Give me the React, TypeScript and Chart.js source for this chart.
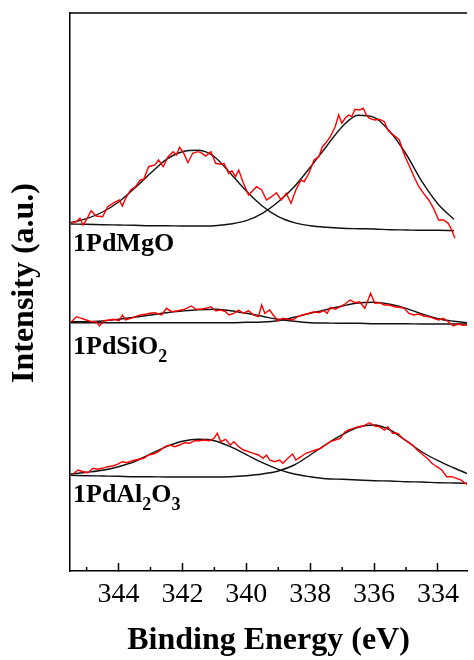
import React, { useEffect, useRef } from "react";
import { Chart, registerables } from "chart.js";

Chart.register(...registerables);

// ---------- axis ----------
const energyMin = 333.09;
const energyMax = 345.52;
const majorTicks = [344, 342, 340, 338, 336, 334];
const minorTicks = [345, 343, 341, 339, 337, 335, 333];
const intensityMin = 0;
const intensityMax = 558;

// ---------- fit grid (binding energy, eV) ----------
const fitEnergy = [345.5, 345, 344.5, 344, 343.5, 343, 342.5, 342, 341.5, 341, 340.5, 340, 339.5, 339, 338.5, 338, 337.5, 337, 336.5, 336, 335.5, 335, 334.5, 334, 333.5, 333];

// ---------- 1PdMgO ----------
const mgoRawE = [345.47, 345.32, 345.21, 345.11, 345.01, 344.86, 344.7, 344.5, 344.34, 344.14, 343.98, 343.88, 343.78, 343.62, 343.47, 343.32, 343.21, 343.06, 342.86, 342.75, 342.6, 342.45, 342.29, 342.19, 342.09, 341.98, 341.83, 341.68, 341.52, 341.42, 341.27, 341.11, 340.96, 340.8, 340.7, 340.55, 340.45, 340.34, 340.24, 340.09, 339.93, 339.78, 339.68, 339.52, 339.37, 339.21, 339.06, 338.91, 338.75, 338.6, 338.45, 338.29, 338.19, 338.04, 337.88, 337.73, 337.62, 337.52, 337.37, 337.22, 337.11, 337.01, 336.91, 336.8, 336.7, 336.6, 336.45, 336.34, 336.24, 336.14, 335.98, 335.83, 335.68, 335.57, 335.47, 335.32, 335.21, 335.11, 335.01, 334.91, 334.75, 334.6, 334.45, 334.29, 334.14, 333.98, 333.83, 333.68, 333.57, 333.47];
const mgoRawI = [348.3, 349.3, 352.7, 346, 351, 360.3, 355, 354.3, 364.3, 368.3, 371, 365, 372.7, 381, 384.3, 391, 391.7, 404.3, 406, 411, 404.3, 414.3, 419.3, 416, 423.7, 419.3, 408.3, 417.7, 419.3, 418.3, 415, 419.3, 407.7, 406.7, 407.7, 397.7, 400.3, 394.3, 401, 387.7, 376, 381, 384.3, 381, 371, 374.3, 378.3, 371, 377.7, 367.7, 381, 391, 389.3, 397.7, 411, 414.3, 424.3, 427.7, 434.3, 444.3, 456, 447.7, 452.7, 456, 454.3, 461.7, 461, 462.7, 456, 452.7, 451, 451.7, 449.3, 441, 437.7, 434.3, 431, 421, 412.7, 406, 394.3, 384.3, 377.7, 371, 362.7, 351, 351, 347.7, 341, 332.7];
const mgoFitPeak1 = [348.3, 352.3, 359, 369, 382.7, 397.7, 411.7, 419.3, 420.7, 414.3, 397.7, 380, 365, 354.3, 348.3, 345.3, 343.7, 342.7, 342.3, 342, 341.3, 341, 340.7, 340.7, 340.3];
const mgoFitPeak2 = [347, 346.7, 346.3, 346, 345.7, 345.3, 345.3, 345, 345, 345.3, 347, 350.3, 357.7, 369.3, 384.3, 403.7, 424.3, 444.3, 455.7, 453.7, 439.3, 417, 389.3, 367, 351.7];

// ---------- 1PdSiO2 ----------
const sioRawE = [345.47, 345.32, 345.16, 345.01, 344.86, 344.7, 344.6, 344.45, 344.29, 344.14, 343.98, 343.88, 343.78, 343.62, 343.47, 343.32, 343.16, 343.01, 342.86, 342.65, 342.5, 342.34, 342.14, 341.93, 341.73, 341.57, 341.42, 341.27, 341.11, 340.96, 340.8, 340.65, 340.55, 340.39, 340.24, 340.09, 339.93, 339.78, 339.62, 339.52, 339.42, 339.27, 339.16, 339.01, 338.86, 338.7, 338.55, 338.39, 338.24, 338.04, 337.88, 337.73, 337.57, 337.47, 337.37, 337.22, 337.06, 336.91, 336.75, 336.6, 336.45, 336.29, 336.11, 335.98, 335.83, 335.68, 335.52, 335.37, 335.21, 335.06, 334.91, 334.75, 334.6, 334.45, 334.29, 334.14, 333.98, 333.83, 333.68, 333.52, 333.37, 333.22, 333.11, 332.96];
const sioRawI = [249.3, 254.3, 252.7, 251, 249.3, 249.3, 245, 250.3, 251, 251.7, 250.3, 256, 251, 252.7, 254.3, 256, 256.7, 257.7, 258.3, 256, 262.7, 259.3, 260.3, 261.7, 265, 261.7, 261.7, 262.7, 264.3, 260.3, 261, 259.3, 256, 257.7, 261, 257.7, 260.3, 256, 254.3, 266, 257.7, 261, 256, 250.3, 252.7, 251.7, 251, 254.3, 256, 257.7, 259.3, 258.3, 260.3, 257.7, 263.7, 261.7, 264.3, 267, 271, 268.3, 269.3, 262.7, 277.7, 267.7, 268.3, 266, 266, 264.3, 263.7, 262.7, 257.7, 256, 257, 255, 254.3, 252.7, 251, 252.7, 249.3, 245, 247, 245.7, 246, 246.3];
const sioFitPeak1 = [249.3, 249.3, 250, 251.7, 253.7, 256, 258.3, 260, 261.3, 261.7, 260.3, 257.7, 254.7, 251.7, 249.7, 248.3, 248, 247.7, 247.7, 247.3, 247.3, 247.3, 247, 247, 247, 247];
const sioFitPeak2 = [248.3, 248.3, 248.3, 248.3, 248.3, 248.3, 248.3, 248.3, 248.3, 248.3, 248.3, 248.7, 249, 250.3, 253.7, 257.7, 261.3, 265, 268, 268.7, 266.7, 262.7, 257, 252.3, 249.7, 248];

// ---------- 1PdAl2O3 ----------
const aloRawE = [345.42, 345.27, 345.11, 344.96, 344.8, 344.65, 344.5, 344.34, 344.19, 344.04, 343.88, 343.73, 343.57, 343.37, 343.21, 343.06, 342.91, 342.75, 342.55, 342.39, 342.24, 342.09, 341.93, 341.78, 341.62, 341.47, 341.32, 341.16, 341.01, 340.91, 340.8, 340.65, 340.5, 340.39, 340.24, 340.09, 339.93, 339.78, 339.62, 339.47, 339.37, 339.27, 339.11, 338.96, 338.86, 338.7, 338.55, 338.45, 338.29, 338.14, 337.98, 337.83, 337.68, 337.52, 337.37, 337.22, 337.06, 336.91, 336.8, 336.65, 336.5, 336.34, 336.14, 335.98, 335.83, 335.68, 335.57, 335.42, 335.27, 335.11, 334.96, 334.8, 334.65, 334.5, 334.34, 334.19, 334.04, 333.88, 333.73, 333.57, 333.42, 333.27, 333.16, 333.01];
const aloRawI = [97, 101, 99.3, 98.3, 102.7, 101.7, 102.7, 104.3, 105, 106.7, 109.3, 108.3, 110.3, 111.7, 112.7, 116, 117, 119.3, 124.3, 126, 124.3, 126, 128.3, 127.7, 130.3, 130.3, 131, 130.3, 132.7, 137.7, 129.3, 131.7, 126, 129.3, 124.3, 121, 119.3, 117.7, 116, 112.7, 116, 111, 109.3, 111, 107.7, 112.7, 117, 111, 114.3, 117.7, 119.3, 121, 122.7, 126, 129.3, 131, 132.7, 139.3, 141, 142.7, 144.3, 145, 148.3, 145, 144.3, 141, 144.3, 137.7, 137.7, 132.7, 129.3, 126, 121, 117, 112.7, 107.7, 104.3, 101, 94.3, 94.3, 92.7, 91, 87.7, 86];
const aloFitPeak1 = [97, 98.7, 100.7, 104.3, 109.3, 117, 124.3, 129.7, 131.7, 130.3, 124.3, 116.3, 108.3, 101.7, 97, 94.3, 92.3, 91.7, 91, 90.3, 90, 89.3, 89, 88.3, 88, 87.7];
const aloFitPeak2 = [95.7, 95.3, 95, 94.7, 94.3, 94.3, 94, 94, 94, 94, 94.3, 95.3, 97, 100, 106, 116, 126.7, 136.3, 143.7, 146, 141, 130.3, 119, 110.3, 103, 96.3];

// ---------- sample labels ----------
// each label: alternating [normal, subscript, normal, subscript ...]
const sampleLabels = [["1PdMgO"], ["1PdSiO", "2"], ["1PdAl", "2", "O", "3"]];
const labelLevels = [320, 217, 69];

const yTitle = "Intensity (a.u.)";
const xTitle = "Binding Energy (eV)";

const SERIF = "'Liberation Serif', 'Times New Roman', Times, serif";

function pairs(xs: number[], ys: number[]) {
  const n = Math.min(xs.length, ys.length);
  const out: { x: number; y: number }[] = [];
  for (let i = 0; i < n; i++) out.push({ x: xs[i], y: ys[i] });
  return out;
}

const rawSet = (xs: number[], ys: number[]) => ({
  data: pairs(xs, ys),
  borderColor: "#ff0000",
  borderWidth: 1.4,
  pointRadius: 0,
  tension: 0,
  fill: false,
});

const fitSet = (ys: number[]) => ({
  data: pairs(fitEnergy, ys),
  borderColor: "#111111",
  borderWidth: 1.4,
  pointRadius: 0,
  cubicInterpolationMode: "monotone" as const,
  fill: false,
});

const decorPlugin = {
  id: "decor",
  afterDraw(chart: any) {
    const { ctx, chartArea, scales } = chart;
    const x = scales.x;
    const y = scales.y;
    ctx.save();
    ctx.strokeStyle = "#000";
    ctx.lineWidth = 1.5;
    // top frame
    ctx.beginPath();
    ctx.moveTo(chartArea.left, chartArea.top);
    ctx.lineTo(chartArea.right, chartArea.top);
    ctx.stroke();
    // minor ticks
    minorTicks.forEach((v) => {
      const px = x.getPixelForValue(v);
      if (px < chartArea.left || px > chartArea.right) return;
      ctx.beginPath();
      ctx.moveTo(px, chartArea.bottom);
      ctx.lineTo(px, chartArea.bottom - 4);
      ctx.stroke();
    });
    // y title
    ctx.save();
    ctx.translate(25, (chartArea.top + chartArea.bottom) / 2 - 9);
    ctx.rotate(-Math.PI / 2);
    ctx.fillStyle = "#000";
    ctx.font = `bold 32px ${SERIF}`;
    ctx.textAlign = "center";
    ctx.textBaseline = "middle";
    ctx.fillText(yTitle, 0, 0);
    ctx.restore();
    // sample labels
    ctx.fillStyle = "#000";
    ctx.textBaseline = "alphabetic";
    ctx.textAlign = "left";
    sampleLabels.forEach((parts, i) => {
      let px = chartArea.left + 3;
      const py = y.getPixelForValue(labelLevels[i]);
      parts.forEach((p, j) => {
        const sub = j % 2 === 1;
        ctx.font = sub ? `bold 18px ${SERIF}` : `bold 26px ${SERIF}`;
        ctx.fillText(p, px, sub ? py + 8 : py);
        px += ctx.measureText(p).width;
      });
    });
    ctx.restore();
  },
};

export default function App() {
  const ref = useRef<HTMLCanvasElement>(null);
  useEffect(() => {
    if (!ref.current) return;
    const chart = new Chart(ref.current, {
      type: "line",
      data: {
        datasets: [
          rawSet(mgoRawE, mgoRawI),
          rawSet(sioRawE, sioRawI),
          rawSet(aloRawE, aloRawI),
          fitSet(mgoFitPeak1),
          fitSet(mgoFitPeak2),
          fitSet(sioFitPeak1),
          fitSet(sioFitPeak2),
          fitSet(aloFitPeak1),
          fitSet(aloFitPeak2),
        ] as any,
      },
      options: {
        animation: false,
        responsive: false,
        devicePixelRatio: 1,
        layout: { padding: { top: 13, left: 0, right: 0, bottom: 0 } },
        plugins: { legend: { display: false }, tooltip: { enabled: false } },
        elements: { point: { radius: 0 } },
        scales: {
          x: {
            type: "linear",
            reverse: true,
            min: energyMin,
            max: energyMax,
            position: "bottom",
            afterBuildTicks: (s: any) => {
              s.ticks = majorTicks.map((v) => ({ value: v }));
            },
            afterFit: (s: any) => {
              s.height = 89;
            },
            grid: {
              display: true,
              drawOnChartArea: false,
              drawTicks: true,
              tickLength: -8,
              tickColor: "#000",
              tickWidth: 1.5,
            },
            border: { display: true, color: "#000", width: 1.5 },
            ticks: {
              color: "#000",
              font: { family: SERIF, size: 28 },
              padding: 15,
              maxRotation: 0,
              autoSkip: false,
            },
            title: {
              display: true,
              text: xTitle,
              color: "#000",
              font: { family: SERIF, size: 32, weight: "bold" },
              padding: { top: 0, bottom: 0 },
            },
          },
          y: {
            type: "linear",
            min: intensityMin,
            max: intensityMax,
            afterFit: (s: any) => {
              s.width = 70;
            },
            ticks: { display: false },
            grid: { display: false },
            border: { display: true, color: "#000", width: 1.5 },
          },
        },
      } as any,
      plugins: [decorPlugin],
    });
    return () => chart.destroy();
  }, []);
  return (
    <div style={{ position: "absolute", left: 0, top: 0, width: 474, height: 660, background: "#fff" }}>
      <canvas ref={ref} width={474} height={660} style={{ display: "block" }} />
    </div>
  );
}
